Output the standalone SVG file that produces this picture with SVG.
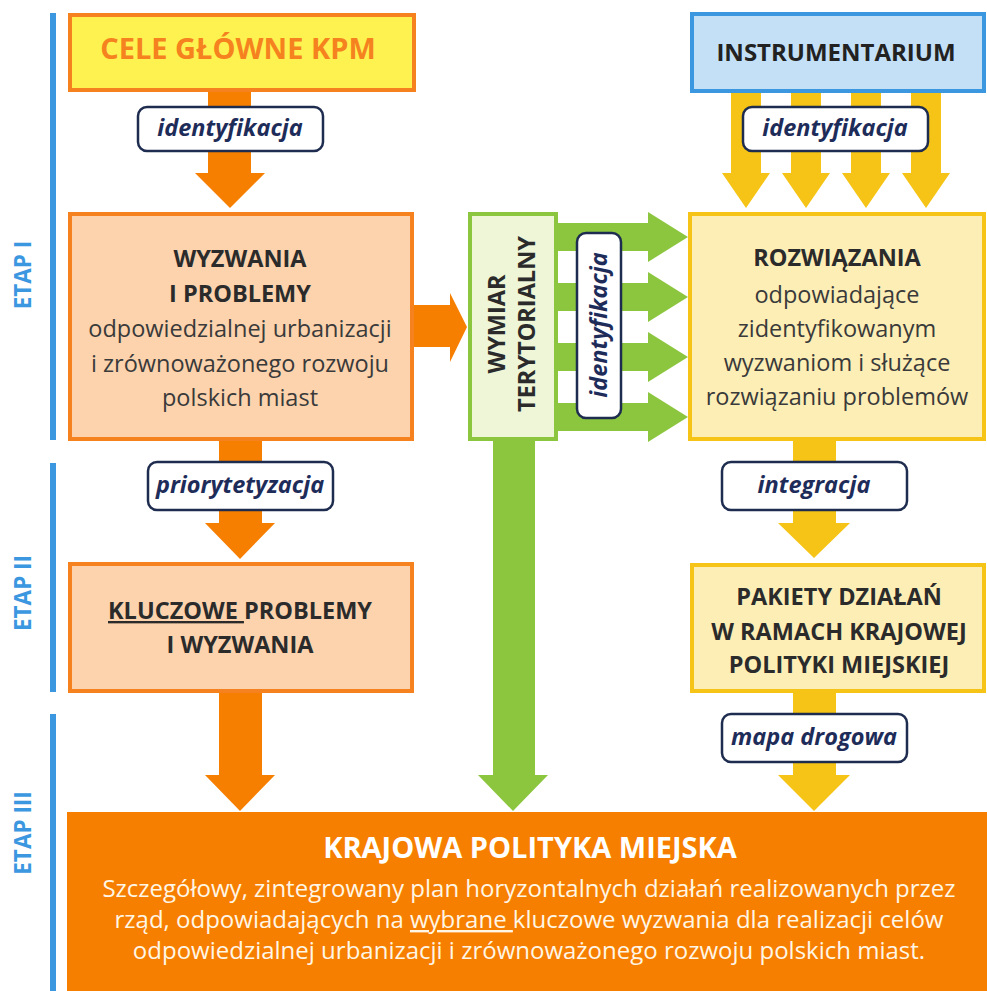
<svg xmlns="http://www.w3.org/2000/svg" width="987" height="991" viewBox="0 0 987 991">
<defs>
<style>
text{font-family:"Open Sans","Noto Sans","Liberation Sans",sans-serif;text-anchor:middle}
.etap{fill:#3b97e0;font-weight:700;font-size:22.5px}
.bar{fill:#3b97e0}
.or{fill:#f77f00}
.ye{fill:#f6c416}
.gr{fill:#8cc63f}
.lbl{fill:#ffffff;stroke:#1e2c4f;stroke-width:2.5}
.lt{fill:#1e2c5a;font-style:italic;font-weight:700;font-size:23.5px}
.h{fill:#2b2b2b;font-weight:700;font-size:23.5px}
.t{fill:#3a3a3a;font-size:23.5px}
.w{fill:#fff6e6;font-size:24px}
</style>
</defs>
<rect width="987" height="991" fill="#ffffff"/>

<g id="etapy">
<rect class="bar" x="50" y="13" width="6" height="427"/>
<rect class="bar" x="50" y="463" width="6" height="229"/>
<rect class="bar" x="50" y="714" width="6" height="277"/>
<text class="etap" transform="translate(31,275) rotate(-90)">ETAP I</text>
<text class="etap" transform="translate(31,593) rotate(-90)">ETAP II</text>
<text class="etap" transform="translate(31,833) rotate(-90)">ETAP III</text>
</g>

<g id="connectors">
<polygon class="or" points="208,91 251,91 251,173 265,173 230,208 195,173 208,173"/>
<polygon class="or" points="219,440 262,440 262,523 275,523 240,559 205,523 219,523"/>
<polygon class="or" points="219,692 262,692 262,775 275,775 240,811 205,775 219,775"/>
<polygon class="or" points="413,305 450,305 450,293 467,327 450,362 450,347 413,347"/>
<polygon class="gr" points="493,440 535,440 535,775 548,775 513,811 478,775 493,775"/>
<polygon class="gr" points="557,223 648,223 648,212 688,237 648,262 648,251 557,251"/>
<polygon class="gr" points="557,283 648,283 648,272 688,297 648,322 648,311 557,311"/>
<polygon class="gr" points="557,343 648,343 648,332 688,357 648,382 648,371 557,371"/>
<polygon class="gr" points="557,403 648,403 648,392 688,417 648,442 648,431 557,431"/>
<polygon class="ye" points="731,92 761,92 761,173 770,173 746,208 722,173 731,173"/>
<polygon class="ye" points="791,92 821,92 821,173 830,173 806,208 782,173 791,173"/>
<polygon class="ye" points="851,92 881,92 881,173 890,173 866,208 842,173 851,173"/>
<polygon class="ye" points="911,92 941,92 941,173 950,173 926,208 902,173 911,173"/>
<polygon class="ye" points="793,440 836,440 836,523 850,523 814,558 778,523 793,523"/>
<polygon class="ye" points="793,692 836,692 836,775 850,775 814,811 778,775 793,775"/>
</g>

<g id="label-identyfikacja-1">
<rect class="lbl" x="138" y="107" width="185" height="44" rx="9"/>
<text class="lt" x="230" y="136">identyfikacja</text>
</g>
<g id="label-identyfikacja-2">
<rect class="lbl" x="743" y="107" width="185" height="44" rx="9"/>
<text class="lt" x="835" y="136">identyfikacja</text>
</g>
<g id="label-identyfikacja-3">
<rect class="lbl" x="577" y="233" width="44" height="185" rx="9"/>
<text class="lt" transform="translate(607,325) rotate(-90)">identyfikacja</text>
</g>
<g id="label-priorytetyzacja">
<rect class="lbl" x="148" y="462" width="185" height="48" rx="9"/>
<text class="lt" x="240" y="493">priorytetyzacja</text>
</g>
<g id="label-integracja">
<rect class="lbl" x="722" y="462" width="185" height="48" rx="9"/>
<text class="lt" x="814" y="493">integracja</text>
</g>
<g id="label-mapa">
<rect class="lbl" x="722" y="714" width="185" height="48" rx="9"/>
<text class="lt" x="814" y="745">mapa drogowa</text>
</g>

<g id="cele">
<rect x="70" y="15" width="344" height="75" fill="#fdf24f" stroke="#f5821f" stroke-width="4"/>
<text x="238" y="59" fill="#f5821f" font-weight="700" font-size="29">CELE GŁÓWNE KPM</text>
</g>

<g id="instrumentarium">
<rect x="692" y="14" width="292" height="77" fill="#c3e0f6" stroke="#3b97e0" stroke-width="4"/>
<text x="836" y="61" fill="#222" font-weight="700" font-size="24">INSTRUMENTARIUM</text>
</g>

<g id="wyzwania">
<rect x="70" y="214" width="342" height="225" fill="#fcd3ad" stroke="#f5821f" stroke-width="4"/>
<text class="h" x="240" y="267">WYZWANIA</text>
<text class="h" x="240" y="302">I PROBLEMY</text>
<text class="t" x="240" y="337">odpowiedzialnej urbanizacji</text>
<text class="t" x="240" y="372">i zrównoważonego rozwoju</text>
<text class="t" x="240" y="406">polskich miast</text>
</g>

<g id="wymiar">
<rect x="470" y="214" width="86" height="225" fill="#eef6d7" stroke="#8cc63f" stroke-width="4"/>
<text class="h" font-size="21.5" transform="translate(505,324) rotate(-90)">WYMIAR</text>
<text class="h" font-size="21.5" transform="translate(535,324) rotate(-90)">TERYTORIALNY</text>
</g>

<g id="rozwiazania">
<rect x="690" y="214" width="294" height="225" fill="#fdeeb6" stroke="#f6c416" stroke-width="4"/>
<text class="h" x="837" y="266">ROZWIĄZANIA</text>
<text class="t" x="837" y="303">odpowiadające</text>
<text class="t" x="837" y="337">zidentyfikowanym</text>
<text class="t" x="837" y="371">wyzwaniom i służące</text>
<text class="t" x="837" y="405">rozwiązaniu problemów</text>
</g>

<g id="kluczowe">
<rect x="70" y="564" width="342" height="127" fill="#fcd3ad" stroke="#f5821f" stroke-width="4"/>
<text class="h" x="240" y="619"><tspan text-decoration="underline">KLUCZOWE </tspan>PROBLEMY</text>
<text class="h" x="240" y="653">I WYZWANIA</text>
</g>

<g id="pakiety">
<rect x="692" y="565" width="292" height="126" fill="#fdeeb6" stroke="#f6c416" stroke-width="4"/>
<text class="h" x="839" y="605">PAKIETY DZIAŁAŃ</text>
<text class="h" x="839" y="640">W RAMACH KRAJOWEJ</text>
<text class="h" x="839" y="673">POLITYKI MIEJSKIEJ</text>
</g>

<g id="krajowa">
<rect x="67" y="812" width="920" height="179" fill="#f77f00"/>
<text x="530" y="858" fill="#ffffff" font-weight="700" font-size="29">KRAJOWA POLITYKA MIEJSKA</text>
<text class="w" x="529" y="897">Szczegółowy, zintegrowany plan horyzontalnych działań realizowanych przez</text>
<text class="w" x="529" y="928">rząd, odpowiadających na <tspan text-decoration="underline">wybrane </tspan>kluczowe wyzwania dla realizacji celów</text>
<text class="w" x="529" y="959">odpowiedzialnej urbanizacji i zrównoważonego rozwoju polskich miast.</text>
</g>
</svg>
